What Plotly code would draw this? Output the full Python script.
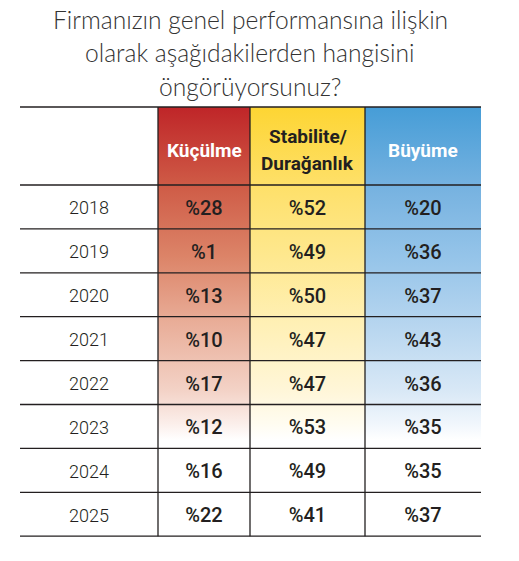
import plotly.graph_objects as go

# data
years = ['2018', '2019', '2020', '2021', '2022', '2023', '2024', '2025']
kuculme = [28, 1, 13, 10, 17, 12, 16, 22]
stabilite = [52, 49, 50, 47, 47, 53, 49, 41]
buyume = [20, 36, 37, 43, 36, 35, 35, 37]
headers = ['Küçülme', 'Stabilite/<br>Durağanlık', 'Büyüme']
title_lines = ['Firmanızın genel performansına ilişkin',
               'olarak aşağıdakilerden hangisini',
               'öngörüyorsunuz?']

# layout constants (pixel-like coordinates)
col_edges = [20, 158, 250, 365, 481]
head_top = 107
row_h = 43.9
head_bot = 185
fade_end = 440
row_edges = [head_bot + i * row_h for i in range(len(years) + 1)]

grad = [
    [[0, '#BF2528'], [0.24, '#CF5C47'], [0.45, '#DC8468'], [0.65, '#E9AE99'],
     [0.85, '#F3D2C6'], [0.95, '#FBEEEA'], [1, '#FFFFFF']],
    [[0, '#FDD533'], [0.24, '#FEE06A'], [0.45, '#FEE88F'], [0.65, '#FFF0B5'],
     [0.85, '#FFF6D8'], [0.95, '#FFFCF0'], [1, '#FFFFFF']],
    [[0, '#469DD7'], [0.24, '#76B2E0'], [0.45, '#95C4E9'], [0.65, '#B6D5EF'],
     [0.85, '#D8E8F6'], [0.95, '#F0F6FC'], [1, '#FFFFFF']],
]
head_colors = ['#FFFFFF', '#231F20', '#FFFFFF']

fig = go.Figure()

for i in range(3):
    x0, x1 = col_edges[i + 1], col_edges[i + 2]
    fig.add_trace(go.Scatter(
        x=[x0, x1, x1, x0, x0], y=[head_top, head_top, fade_end, fade_end, head_top],
        mode='lines', fill='toself', line=dict(width=0),
        fillgradient=dict(type='vertical', start=head_top, stop=fade_end, colorscale=grad[i]),
        hoverinfo='skip', showlegend=False))

# grid lines
line_c = '#231F20'
for y in [head_top] + row_edges:
    fig.add_shape(type='line', x0=col_edges[0], x1=col_edges[-1], y0=y, y1=y,
                  line=dict(color=line_c, width=1.3))
for x in col_edges[1:-1]:
    fig.add_shape(type='line', x0=x, x1=x, y0=head_top, y1=row_edges[-1],
                  line=dict(color=line_c, width=1.3))

centers_x = [(col_edges[i] + col_edges[i + 1]) / 2 for i in range(4)]
centers_y = [(row_edges[i] + row_edges[i + 1]) / 2 + 3 for i in range(len(years))]

# headers, one annotation per line
head_mid = (head_top + head_bot) / 2 + 4
for i, h in enumerate(headers):
    parts = h.split('<br>')
    for k, part in enumerate(parts):
        yy = head_mid + (k - (len(parts) - 1) / 2) * 27
        fig.add_annotation(x=centers_x[i + 1], y=yy, text=part,
                           showarrow=False, align='center',
                           font=dict(family='Roboto', size=19, color=head_colors[i], weight=700))

# year labels
fig.add_trace(go.Scatter(x=[centers_x[0]] * len(years), y=centers_y, text=years,
                         mode='text', textposition='middle center',
                         textfont=dict(family='Roboto', size=18, color='#231F20', weight=300),
                         hoverinfo='skip', showlegend=False))

for j, vals in enumerate([kuculme, stabilite, buyume]):
    fig.add_trace(go.Scatter(x=[centers_x[j + 1]] * len(vals), y=centers_y,
                             text=['%' + str(v) for v in vals],
                             mode='text', textposition='middle center',
                             textfont=dict(family='Roboto', size=20, color='#231F20', weight=500),
                             hoverinfo='skip', showlegend=False))

# title
for k, t in enumerate(title_lines):
    fig.add_annotation(x=250, y=19 + k * 33.5, text=t, showarrow=False,
                       font=dict(family='Lato', size=24.6, color='#333333', weight=300))

fig.update_xaxes(range=[0, 519], visible=False, fixedrange=True)
fig.update_yaxes(range=[561, 0], visible=False, fixedrange=True)
fig.update_layout(width=519, height=561, margin=dict(l=0, r=0, t=0, b=0),
                  plot_bgcolor='white', paper_bgcolor='white')

# drop the default page margin so figure pixels line up with the page
fig.write_html("out.html", config={'displayModeBar': False},
               post_script="document.body.style.margin='0';")
